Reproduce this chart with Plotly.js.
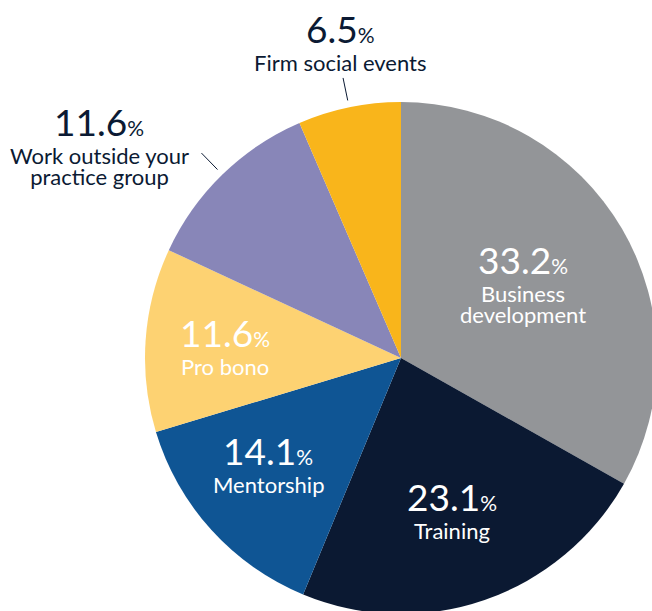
<!DOCTYPE html>
<html><head><meta charset="utf-8">
<script src="https://cdn.plot.ly/plotly-3.0.1.min.js"></script>
<style>
html,body{margin:0;padding:0;overflow:hidden;background:#fff;width:652px;height:611px}
#chart{width:700px;height:660px}
</style>
</head><body><div id="chart"></div>
<script>
// ---- data ----
const categories = ["Business development","Training","Mentorship","Pro bono","Work outside your practice group","Firm social events"];
const values = [33.2, 23.1, 14.1, 11.6, 11.6, 6.5];
const labelLines = [["Business","development"],["Training"],["Mentorship"],["Pro bono"],["Work outside your","practice group"],["Firm social events"]];

// ---- style ----
const colors = ["#939598","#0b1932","#0f5594","#fdd272","#8886b8","#f9b51b"];
const outside = [false,false,false,false,true,true];
const labelRadius = [145,167,174,176,286,286];   // px from centre
const labelAngleTweak = [-2.7,1.1,1.8,-2.2,0,0];  // deg
const outsideOffset = [null,null,null,null,[-102,-12],[-3,-29]];
const navy = "#0b1a33";
const FONT = "Lato, 'Open Sans', sans-serif";
const LABEL_SIZE = 22, LINE_GAP = 21;

const W = 700, H = 660;
const dom = {x:[145/W, 657/W], y:[1-614/H, 1-102/H]};
const cx = (dom.x[0]+dom.x[1])/2*W, cy = (1-(dom.y[0]+dom.y[1])/2)*H;
const R = Math.min(dom.x[1]-dom.x[0], (dom.y[1]-dom.y[0])*H/W)*W/2;

const total = values.reduce((a,b)=>a+b,0);
const px = x => x/W, py = y => 1 - y/H;

const annotations = [], shapes = [];
let cum = 0;
values.forEach((v,i)=>{
  const mid = (cum + v/2)/total*360; cum += v;
  let ax, ay;
  if (outside[i]) {
    const t = mid*Math.PI/180;
    const x0 = cx + (R+7)*Math.sin(t), y0 = cy - (R+7)*Math.cos(t);
    const x1 = cx + labelRadius[i]*Math.sin(t), y1 = cy - labelRadius[i]*Math.cos(t);
    shapes.push({type:'line', xref:'paper', yref:'paper', x0:px(x0), y0:py(y0), x1:px(x1), y1:py(y1), line:{color:navy, width:1}});
    ax = x1 + outsideOffset[i][0]; ay = y1 + outsideOffset[i][1];
  } else {
    const t = (mid + labelAngleTweak[i])*Math.PI/180;
    ax = cx + labelRadius[i]*Math.sin(t); ay = cy - labelRadius[i]*Math.cos(t);
  }
  const col = outside[i] ? navy : "#ffffff";
  annotations.push({
    xref:'paper', yref:'paper', x:px(ax), y:py(ay-20), xanchor:'center', yanchor:'middle', showarrow:false,
    text: v.toFixed(1) + '<span style="font-size:21px">%</span>',
    font:{family:FONT, size:37, color:col, weight:400}
  });
  const n = labelLines[i].length;
  annotations.push({
    xref:'paper', yref:'paper', x:px(ax), y:py(ay + 14 + LINE_GAP*(n-1)/2), xanchor:'center', yanchor:'middle', showarrow:false,
    text: labelLines[i].map(l=>'<span style="font-size:'+LABEL_SIZE+'px">'+l+'</span>').join('<br>'),
    font:{family:FONT, size:LINE_GAP/1.3, color:col}
  });
});

const trace = {
  type:'pie', labels:categories, values:values, sort:false, direction:'clockwise', rotation:0,
  marker:{colors:colors, line:{width:0}}, textinfo:'none', hoverinfo:'label+percent',
  domain:dom, showlegend:false
};
Plotly.newPlot('chart', [trace], {
  width:W, height:H, margin:{l:0,r:0,t:0,b:0}, paper_bgcolor:'#fff',
  showlegend:false, annotations:annotations, shapes:shapes
}, {displayModeBar:false, staticPlot:true});
</script>
</body></html>
